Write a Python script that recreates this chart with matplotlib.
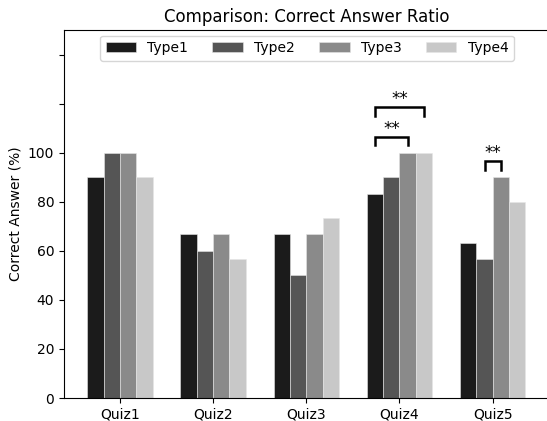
import matplotlib
matplotlib.use("Agg")
import matplotlib.pyplot as plt
import numpy as np

quizzes = ["Quiz1", "Quiz2", "Quiz3", "Quiz4", "Quiz5"]
types = ["Type1", "Type2", "Type3", "Type4"]
type1 = [90.0, 66.7, 66.7, 83.3, 63.3]
type2 = [100.0, 60.0, 50.0, 90.0, 56.7]
type3 = [100.0, 66.7, 66.7, 100.0, 90.0]
type4 = [90.0, 56.7, 73.3, 100.0, 80.0]
series = [type1, type2, type3, type4]
colors = ["#1b1b1b", "#555555", "#8a8a8a", "#c8c8c8"]

# significance pairs: (quiz index, type a, type b, stack level)
sig_pairs = [(3, 0, 2, 0), (3, 0, 3, 1), (4, 1, 2, 0)]
sig_label = "**"

fig = plt.figure(figsize=(5.47, 4.21), dpi=100)
ax = fig.add_axes([64 / 547, 1 - 398 / 421, 486 / 547, 368 / 421])

width = 0.175
x = np.arange(len(quizzes))
offsets = (np.arange(len(types)) - 1.5) * width
for s, vals, c, off in zip(types, series, colors, offsets):
    ax.bar(x + off, vals, width, color=c, label=s, edgecolor="#e6e6e6", linewidth=0.4)

for qi, a, b, lvl in sig_pairs:
    xa = x[qi] + offsets[a]
    xb = x[qi] + offsets[b]
    top = max(series[a][qi], series[b][qi]) + 3 + 12 * lvl
    ax.plot([xa, xa, xb, xb], [top, top + 3.5, top + 3.5, top], color="black", lw=1.8,
            solid_joinstyle="miter")
    ax.text((xa + xb) / 2, top + 6.8, sig_label, ha="center", va="center", fontsize=12)

ax.set_xlim(-0.6, 4.615)
ax.set_ylim(0, 150)
ax.set_xticks(x)
ax.set_xticklabels(quizzes, fontsize=10)
ax.set_yticks([0, 20, 40, 60, 80, 100, 120, 140])
ax.set_yticklabels(["0", "20", "40", "60", "80", "100", "", ""], fontsize=10)
ax.set_ylabel("Correct Answer (%)", fontsize=10)
ax.set_title("Comparison: Correct Answer Ratio", fontsize=12)
ax.legend(loc="upper center", ncol=4, fontsize=10, columnspacing=1.75, handlelength=2.2,
          borderaxespad=0.4)

fig.savefig("out.png", dpi=100)
